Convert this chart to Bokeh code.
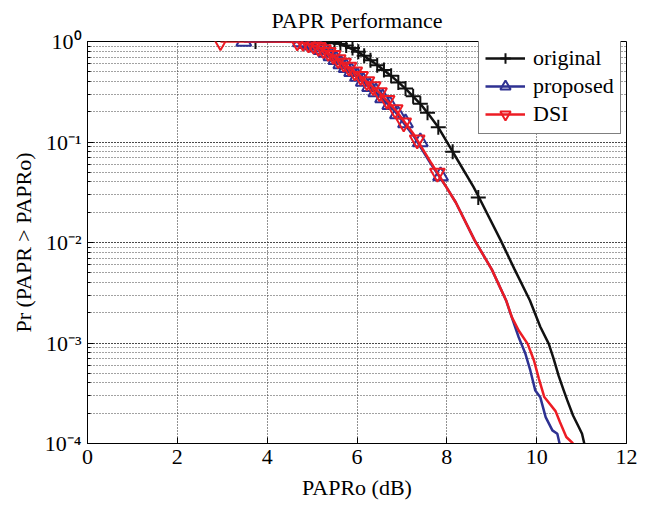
from bokeh.plotting import figure
from bokeh.models import (Legend, LegendItem, CustomJSTickFormatter,
                          FixedTicker, Range1d, LogTicker)
from bokeh.embed import file_html
from bokeh.resources import INLINE

# ---------------- data ----------------
# original (black, "+")
orig_line_x = [3.74, 4.5, 5.0, 5.3, 5.63, 6.0, 6.37, 6.52, 6.8, 7.08, 7.41, 7.57, 7.81, 8.13,
               8.59, 8.7, 9.2, 9.5, 9.85, 10.08, 10.27, 10.38, 10.49, 10.60, 10.68, 10.81,
               10.94, 11.01, 11.06]
orig_line_y = [1.0, 0.999, 0.995, 0.98, 0.95, 0.80, 0.62, 0.55, 0.44, 0.34, 0.24, 0.195, 0.14,
               0.08, 0.036, 0.029, 0.0105, 0.0055, 0.00265, 0.00145, 0.00098, 0.00069, 0.00047,
               0.00034, 0.00027, 0.00019, 0.000145, 0.000125, 0.0001]
orig_mark_x = [3.74, 5.05, 5.2, 5.35, 5.5, 5.63, 5.76, 5.9, 6.03, 6.16, 6.3, 6.45, 6.6, 6.76,
               6.92, 7.08, 7.25, 7.41, 7.57, 7.81, 8.13, 8.70]
orig_mark_y = [1.0, 0.995, 0.99, 0.98, 0.965, 0.95, 0.91, 0.86, 0.79, 0.72, 0.65, 0.58, 0.52,
               0.455, 0.39, 0.34, 0.285, 0.24, 0.195, 0.14, 0.08, 0.028]

# proposed (blue, triangle up)
prop_line_x = [3.48, 4.0, 4.74, 5.0, 5.25, 5.6, 6.0, 6.5, 6.85, 7.26, 7.64, 8.0, 8.2, 8.62,
               9.0, 9.32, 9.42, 9.60, 9.75, 9.86, 9.97, 10.08, 10.20, 10.35, 10.46, 10.51]
prop_line_y = [1.0, 1.0, 0.99, 0.91, 0.80, 0.61, 0.45, 0.29, 0.20, 0.115, 0.061, 0.035, 0.025,
               0.0105, 0.0054, 0.00265, 0.00195, 0.00114, 0.00078, 0.00053, 0.000336,
               0.000289, 0.000183, 0.000135, 0.000125, 0.0001]
prop_mark_x = [3.48, 4.74, 4.86, 4.98, 5.09, 5.2, 5.31, 5.42, 5.53, 5.64, 5.76, 5.88, 6.01,
               6.14, 6.28, 6.42, 6.57, 6.73, 6.9, 7.08, 7.41, 7.86]
prop_mark_y = [1.0, 0.99, 0.95, 0.92, 0.88, 0.83, 0.78, 0.72, 0.66, 0.60, 0.55, 0.50, 0.45,
               0.40, 0.355, 0.315, 0.275, 0.235, 0.19, 0.155, 0.10, 0.046]

# DSI (red, triangle down)
dsi_line_x = [2.96, 4.0, 4.67, 5.0, 5.25, 5.6, 6.0, 6.5, 6.85, 7.26, 7.64, 8.0, 8.2, 8.62,
              9.0, 9.32, 9.45, 9.60, 9.80, 9.94, 10.05, 10.17, 10.42, 10.52, 10.66, 10.81]
dsi_line_y = [1.0, 1.0, 0.995, 0.93, 0.83, 0.65, 0.48, 0.31, 0.21, 0.12, 0.063, 0.035, 0.025,
              0.0105, 0.0054, 0.00265, 0.0018, 0.00133, 0.00098, 0.00067, 0.00044, 0.00029,
              0.00021, 0.000163, 0.000116, 0.0001]
dsi_mark_x = [2.96, 4.67, 4.8, 4.92, 5.03, 5.14, 5.25, 5.36, 5.47, 5.58, 5.7, 5.82, 5.95,
              6.08, 6.22, 6.36, 6.5, 6.67, 6.85, 7.04, 7.34, 7.79]
dsi_mark_y = [1.0, 0.995, 0.98, 0.95, 0.92, 0.875, 0.83, 0.78, 0.73, 0.66, 0.61, 0.555, 0.50,
              0.45, 0.40, 0.355, 0.31, 0.26, 0.21, 0.155, 0.105, 0.049]

x_ticks = [0, 2, 4, 6, 8, 10, 12]
labels = ["original", "proposed", "DSI"]
title_text = "PAPR Performance"
FONT = "'Liberation Serif', 'Times New Roman', serif"
BLACK, BLUE, RED = "#111111", "#2e3192", "#ed1c24"

# ---------------- figure ----------------
p = figure(width=651, height=513, y_axis_type="log",
           x_range=Range1d(0, 12), y_range=Range1d(1e-4, 1),
           output_backend="svg", toolbar_location=None,
           min_border_left=87, min_border_right=25, min_border_top=0, min_border_bottom=70,
           title=title_text)
p.background_fill_color = "white"
p.border_fill_color = "white"
p.outline_line_color = "black"
p.outline_line_width = 1

p.title.text_font = FONT
p.title.text_font_size = "22px"
p.title.text_font_style = "normal"
p.title.align = "center"
p.title.vertical_align = "top"
p.title.text_color = "black"
p.title.standoff = 14

p.xaxis.ticker = FixedTicker(ticks=x_ticks)
p.yaxis.ticker = LogTicker(num_minor_ticks=10)
p.yaxis.formatter = CustomJSTickFormatter(code="""
    const e = Math.round(Math.log10(tick));
    const sup = {'0':'\u2070','1':'\u00b9','2':'\u00b2','3':'\u00b3','4':'\u2074','-':'\u207b'};
    return '10' + String(e).split('').map(c => sup[c]).join('');
""")
for ax in (p.xaxis, p.yaxis):
    ax.axis_line_color = "black"
    ax.major_tick_line_color = "black"
    ax.minor_tick_line_color = "black"
    ax.major_tick_in = 6
    ax.major_tick_out = 0
    ax.minor_tick_in = 3
    ax.minor_tick_out = 0
    ax.major_label_text_font = FONT
    ax.major_label_text_font_size = "22px"
    ax.major_label_text_color = "black"
    ax.axis_label_text_font = FONT
    ax.axis_label_text_font_size = "22px"
    ax.axis_label_text_font_style = "normal"
    ax.axis_label_text_color = "black"
p.xaxis.minor_tick_line_color = None
p.xaxis.axis_label = "PAPRo (dB)"
p.yaxis.axis_label = "Pr (PAPR > PAPRo)"
p.xaxis.major_label_standoff = 6
p.yaxis.major_label_standoff = 6
p.xaxis.axis_label_standoff = 8
p.yaxis.axis_label_standoff = 6

p.xgrid.grid_line_color = "#222222"
p.xgrid.grid_line_dash = "1 2"
p.xgrid.grid_line_width = 1
p.ygrid.grid_line_color = "#222222"
p.ygrid.grid_line_dash = "1 2"
p.ygrid.minor_grid_line_color = "#444444"
p.ygrid.minor_grid_line_dash = "1 2"

# ---------------- series ----------------
series = [
    (orig_line_x, orig_line_y, orig_mark_x, orig_mark_y, BLACK, "cross"),
    (prop_line_x, prop_line_y, prop_mark_x, prop_mark_y, BLUE, "triangle"),
    (dsi_line_x, dsi_line_y, dsi_mark_x, dsi_mark_y, RED, "inverted_triangle"),
]
items = []
for (lx, ly, mx, my, col, mk), lab in zip(series, labels):
    lr = p.line(lx, ly, line_color=col, line_width=2.5)
    mr = p.scatter(mx, my, marker=mk, size=15, line_color=col, line_width=2,
                   fill_color=None)
    items.append(LegendItem(label=lab, renderers=[lr, mr]))

legend = Legend(items=items, location=(391, 309))
legend.label_text_font = FONT
legend.label_text_font_size = "22px"
legend.label_text_color = "black"
legend.border_line_color = "black"
legend.border_line_width = 1
legend.background_fill_color = "white"
legend.background_fill_alpha = 1
legend.glyph_width = 40
legend.glyph_height = 26
legend.label_height = 26
legend.label_standoff = 8
legend.spacing = 2
legend.padding = 6
legend.margin = 0
p.add_layout(legend)

open("out.html", "w").write(file_html(p, INLINE))
